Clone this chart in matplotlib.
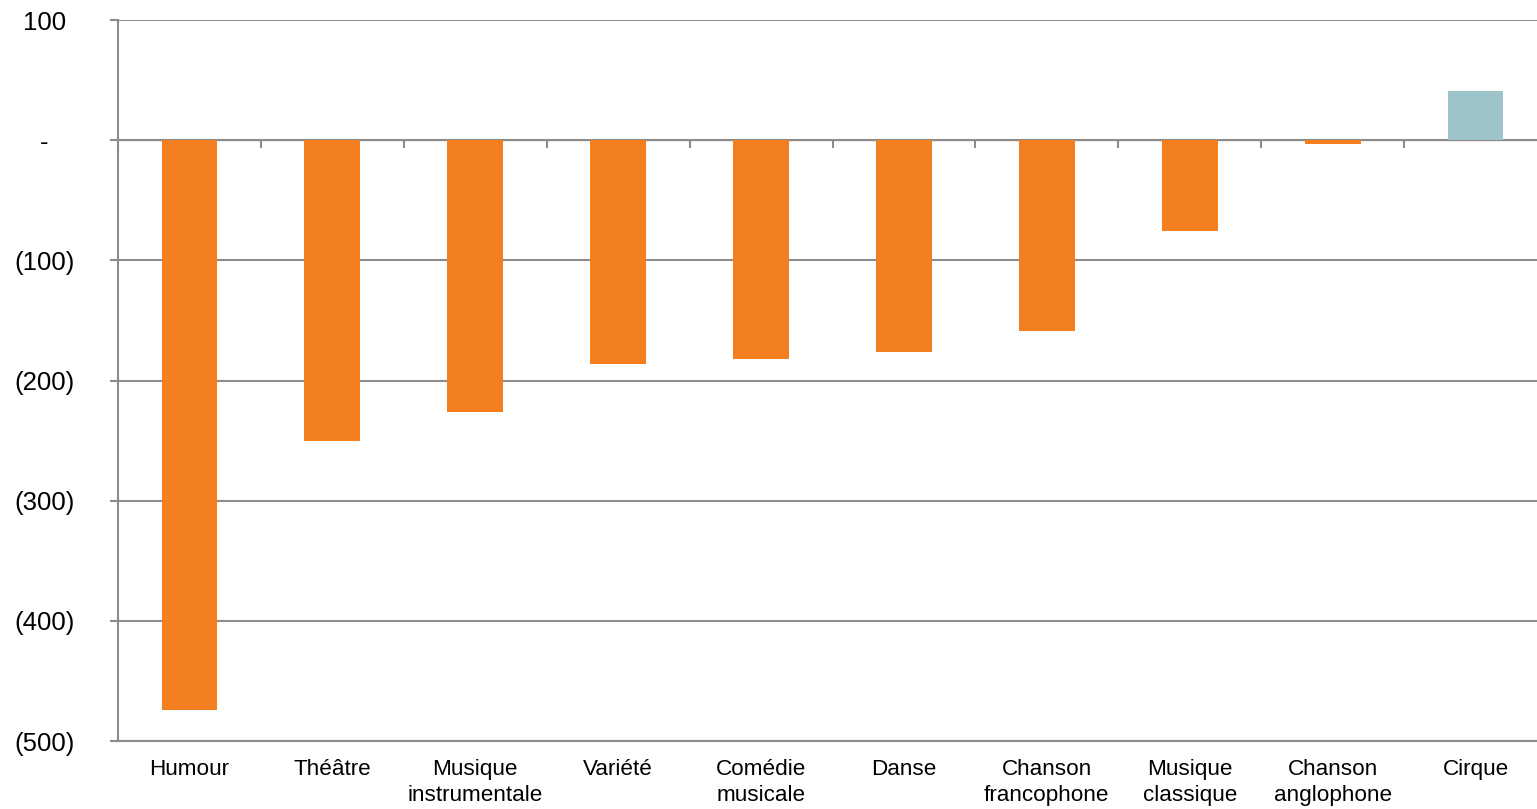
import numpy as np
import matplotlib.pyplot as plt
from matplotlib.ticker import FuncFormatter

plt.rcParams['font.family'] = ['Liberation Sans', 'DejaVu Sans']

categories = ["Humour", "Théâtre", "Musique\ninstrumentale", "Variété", "Comédie\nmusicale",
              "Danse", "Chanson\nfrancophone", "Musique\nclassique", "Chanson\nanglophone", "Cirque"]
values = [-474, -250, -226, -186, -182, -176, -159, -76, -3, 41]

orange = "#F47F20"
teal = "#9DC4C8"
grid_col = "#8C8C8C"

fig = plt.figure(figsize=(15.37, 8.09), dpi=100)
ax = fig.add_axes([118 / 1537, 1 - 741 / 809, 1 - 118 / 1537, (741 - 20) / 809])

x = np.arange(len(categories))
colors = [teal if v > 0 else orange for v in values]
ax.bar(x, values, width=0.39, color=colors, zorder=3)

ymin, ymax = -500, 100
ax.set_ylim(ymin, ymax)
ax.set_xlim(-0.5, len(categories) - 0.57)
ax.set_yticks(np.arange(-500, 101, 100))


def fmt(v, pos):
    if v == 0:
        return "-"
    if v < 0:
        return "({:.0f})".format(-v)
    return "{:.0f}".format(v)


ax.yaxis.set_major_formatter(FuncFormatter(fmt))
ax.grid(axis='y', color=grid_col, linewidth=1.5, zorder=1)
ax.tick_params(axis='y', length=6, width=1.5, color=grid_col, labelsize=18.5, pad=47)
for lab in ax.get_yticklabels():
    lab.set_horizontalalignment('center')

ax.set_xticks(x)
ax.set_xticklabels(categories, fontsize=16.2, linespacing=1.3)
ax.tick_params(axis='x', length=0, pad=13)

for s in ['top', 'right']:
    ax.spines[s].set_visible(False)
for s in ['left', 'bottom']:
    ax.spines[s].set_color(grid_col)
    ax.spines[s].set_linewidth(1.5)

# zero line with category separator ticks
zero_pos = (0 - ymin) / (ymax - ymin)
sec = ax.secondary_xaxis(zero_pos)
sec.set_xticks(np.arange(-0.5, len(categories) - 0.5, 1.0))
sec.set_xticklabels([])
sec.tick_params(direction='out', length=6, width=1.5, color=grid_col)
sec.spines['bottom'].set_color("#A6A6A6")
sec.spines['bottom'].set_linewidth(2.5)
sec.spines['bottom'].set_zorder(4)
sec.xaxis.set_ticks_position('bottom')

fig.savefig("out.png", dpi=100)
